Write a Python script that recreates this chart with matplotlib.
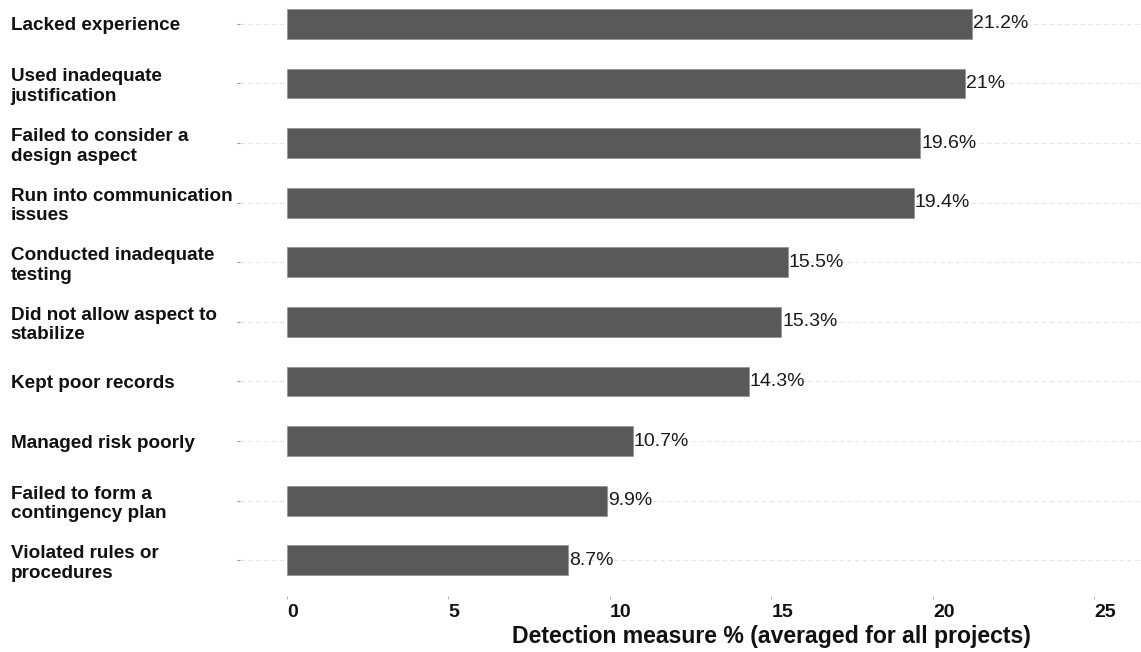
import matplotlib
matplotlib.use("Agg")
import matplotlib.pyplot as plt

categories = [
    "Lacked experience",
    "Used inadequate\njustification",
    "Failed to consider a\ndesign aspect",
    "Run into communication\nissues",
    "Conducted inadequate\ntesting",
    "Did not allow aspect to\nstabilize",
    "Kept poor records",
    "Managed risk poorly",
    "Failed to form a\ncontingency plan",
    "Violated rules or\nprocedures",
]
values = [21.2, 21.0, 19.6, 19.4, 15.5, 15.3, 14.3, 10.7, 9.9, 8.7]
value_labels = ["21.2%", "21%", "19.6%", "19.4%", "15.5%", "15.3%", "14.3%", "10.7%", "9.9%", "8.7%"]
xticks = [0, 5, 10, 15, 20, 25]

plt.rcParams['font.family'] = ['Liberation Sans', 'DejaVu Sans']

W, H = 1141, 652
fig = plt.figure(figsize=(W / 100, H / 100), dpi=100)
left_px, right_px, top_px, bottom_px = 240, 1141, 0, 596
ax = fig.add_axes([left_px / W, 1 - bottom_px / H, (right_px - left_px) / W, (bottom_px - top_px) / H])

n = len(categories)
ypos = [n - 1 - i for i in range(n)]

ax.barh(ypos, values, height=0.5, color="#595959", edgecolor="#8a8a8a", linewidth=0.4, zorder=3)
for y, v, lab in zip(ypos, values, value_labels):
    ax.text(v + 0.03, y, lab, ha="left", va="center", fontsize=14, color="#1a1a1a", zorder=4)

ax.set_xlim(-1.455, 26.44)
ax.set_ylim(-0.6, n - 1 + 0.4)

for y in ypos:
    ax.axhline(y, color="#e6e6e6", linewidth=0.8, linestyle=(0, (4, 3)), zorder=1)

for s in ax.spines.values():
    s.set_visible(False)

ax.set_yticks(ypos)
ax.set_yticklabels(categories, ha="left", fontsize=13.6, fontweight="bold", color="#111111",
                   linespacing=1.2)
ax.tick_params(axis="y", length=2.5, width=0.8, color="#999999", pad=162.7)

ax.set_xticks(xticks)
ax.set_xticklabels([str(t) for t in xticks], ha="left", fontsize=14, fontweight="bold", color="#111111")
ax.tick_params(axis="x", length=2.5, width=0.6, color="#aaaaaa", pad=3)

ax.set_xlabel("Detection measure % (averaged for all projects)", fontsize=16.6, fontweight="bold", color="#111111")
ax.xaxis.set_label_coords((771 - left_px) / (right_px - left_px), -(637 - bottom_px) / (bottom_px - top_px), transform=ax.transAxes)
ax.xaxis.label.set_va("center")

fig.savefig("out.png", dpi=100)
